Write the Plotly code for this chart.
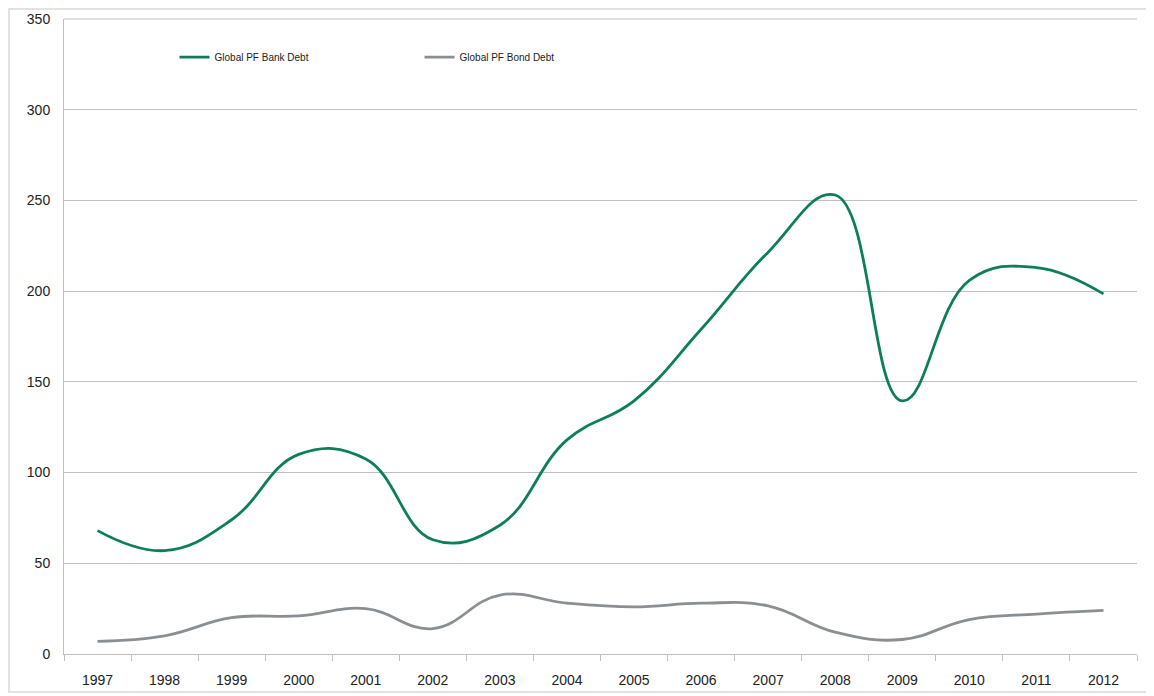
import plotly.graph_objects as go

years = ["1997", "1998", "1999", "2000", "2001", "2002", "2003", "2004",
         "2005", "2006", "2007", "2008", "2009", "2010", "2011", "2012"]
bank_debt = [68, 57, 74, 110, 107.5, 63, 71, 118, 139.5, 179, 221.5, 253, 139.5, 206, 213, 198.5]
bond_debt = [7, 10, 20, 21, 25, 14, 32.5, 28, 26, 28, 26.5, 12, 8, 19, 22, 24]

W, H = 1146, 688
L, R, T, B = 56, 17, 11, 42
pw, ph = W - L - R, H - T - B

fig = go.Figure()
fig.add_trace(go.Scatter(x=years, y=bank_debt, mode="lines", name="Global PF Bank Debt",
                         line=dict(color="#0b7f55", width=2.8, shape="spline", smoothing=1.2)))
fig.add_trace(go.Scatter(x=years, y=bond_debt, mode="lines", name="Global PF Bond Debt",
                         line=dict(color="#8a8f94", width=2.8, shape="spline", smoothing=1.2)))

fig.update_layout(
    width=W, height=H,
    margin=dict(l=L, r=R, t=T, b=B, autoexpand=False),
    paper_bgcolor="white", plot_bgcolor="white",
    font=dict(family="Liberation Sans, Arial, sans-serif", color="#222222"),
    showlegend=True,
    legend=dict(orientation="h", x=0.103, y=0.94, xanchor="left", yanchor="middle",
                font=dict(size=10, color="#222222"), entrywidth=200, entrywidthmode="pixels",
                bgcolor="rgba(0,0,0,0)", itemwidth=30),
    xaxis=dict(type="category", showgrid=False, showline=True, linecolor="#bfbfbf", linewidth=1,
               ticks="outside", tickson="boundaries", ticklen=6, tickcolor="#bfbfbf",
               tickfont=dict(size=14), range=[-0.5, 15.5], automargin=False,
               ticklabelstandoff=13),
    yaxis=dict(range=[0, 350], dtick=50, showgrid=True, gridcolor="#bfbfbf", gridwidth=1,
               showline=True, linecolor="#bfbfbf", linewidth=1, zeroline=False,
               tickfont=dict(size=14), ticks="", ticklabelstandoff=10, automargin=False),
    shapes=[dict(type="rect", xref="paper", yref="paper",
                 x0=-(L - 1) / pw, x1=(W - 4 - L) / pw, y0=-(B - 4) / ph, y1=1 + (T - 1) / ph,
                 line=dict(color="#d9d9d9", width=1.5), fillcolor="rgba(0,0,0,0)", layer="below"),
            dict(type="line", xref="paper", yref="paper", x0=0, x1=1, y0=1, y1=1,
                 line=dict(color="#bfbfbf", width=1), layer="below")],
)

fig.write_html("out.html")
